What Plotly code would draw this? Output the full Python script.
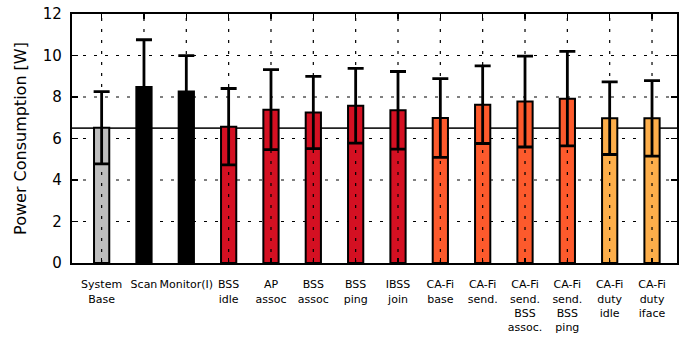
import plotly.graph_objects as go

categories = ["System<br>Base", "Scan", "Monitor(I)", "BSS<br>idle", "AP<br>assoc", "BSS<br>assoc",
              "BSS<br>ping", "IBSS<br>join", "CA-Fi<br>base", "CA-Fi<br>send.",
              "CA-Fi<br>send.<br>BSS<br>assoc.", "CA-Fi<br>send.<br>BSS<br>ping",
              "CA-Fi<br>duty<br>idle", "CA-Fi<br>duty<br>iface"]
power_w = [6.52, 8.48, 8.26, 6.57, 7.39, 7.25, 7.58, 7.36, 6.99, 7.63, 7.78, 7.92, 6.98, 6.97]
error_w = [1.74, 2.28, 1.73, 1.84, 1.93, 1.74, 1.80, 1.87, 1.90, 1.87, 2.19, 2.28, 1.75, 1.82]
bar_colors = ["#bebebe", "#000000", "#000000", "#d41022", "#d41022", "#d41022", "#d41022",
              "#d41022", "#fd5a2c", "#fd5a2c", "#fd5a2c", "#fd5a2c", "#fdae4a", "#fdae4a"]
baseline_w = 6.5
y_ticks = [0, 2, 4, 6, 8, 10, 12]

xs = list(range(len(categories)))

fig = go.Figure()
fig.add_trace(go.Bar(
    x=xs, y=power_w, width=0.36,
    marker=dict(color=bar_colors, line=dict(color="black", width=2)),
    error_y=dict(type="data", array=error_w, visible=True, color="black", thickness=2.8, width=8),
    showlegend=False,
))

# horizontal dotted grid lines (below bars)
for yv in y_ticks[1:-1]:
    fig.add_shape(type="line", xref="paper", x0=0, x1=1, yref="y", y0=yv, y1=yv,
                  line=dict(color="black", width=1.2, dash="3px,8px"), layer="below")
# baseline (below bars)
fig.add_shape(type="line", xref="paper", x0=0, x1=1, yref="y", y0=baseline_w, y1=baseline_w,
              line=dict(color="#222222", width=1.6), layer="below")
# vertical dotted grid lines drawn over the bars
for x in xs:
    fig.add_shape(type="line", xref="x", x0=x, x1=x, yref="paper", y0=0, y1=1,
                  line=dict(color="black", width=1.2, dash="3px,8px"), layer="above")

fig.update_layout(
    width=688, height=339,
    margin=dict(l=72, r=11, t=14, b=76),
    paper_bgcolor="white", plot_bgcolor="white",
    font=dict(family="DejaVu Sans", color="black"),
    bargap=0,
)
fig.update_xaxes(
    range=[-0.70, 13.59], tickmode="array", tickvals=xs, ticktext=categories,
    ticks="inside", ticklen=5, tickwidth=1.2, tickcolor="black",
    showline=True, linecolor="black", linewidth=2.2, mirror="ticks",
    showgrid=False, zeroline=False, tickfont=dict(size=11), tickangle=0,
    ticklabelstandoff=10, automargin=False,
    layer="above traces",
)
fig.update_yaxes(
    range=[0, 12], tickmode="array", tickvals=y_ticks,
    ticks="inside", ticklen=6, tickwidth=1.2, tickcolor="black",
    showline=True, linecolor="black", linewidth=2.2, mirror="ticks",
    showgrid=False, zeroline=False, tickfont=dict(size=15), ticklabelstandoff=5,
    title=dict(text="Power Consumption [W]", font=dict(size=16), standoff=12),
    automargin=False,
    layer="above traces",
)

fig.write_html("out.html", config={"displayModeBar": False, "staticPlot": True},
               post_script="document.body.style.margin='0';document.body.style.overflow='hidden';")
